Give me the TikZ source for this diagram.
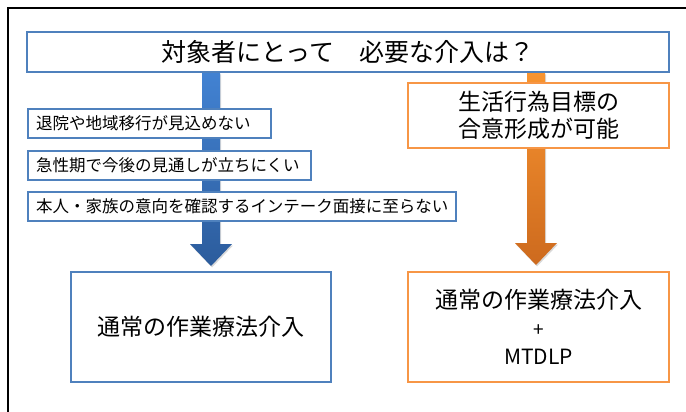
\documentclass[tikz,border=0pt]{standalone}
\usepackage{fontspec}
\setmainfont{Noto Sans CJK JP}
\usepackage{tikz}
\usetikzlibrary{calc}
\usetikzlibrary{backgrounds}
\usetikzlibrary{shadows}
\definecolor{boxblue}{RGB}{79,129,189}
\definecolor{boxorange}{RGB}{247,150,70}
\definecolor{bluetop}{RGB}{66,130,210}
\definecolor{bluebot}{RGB}{44,92,156}
\definecolor{orangetop}{RGB}{248,148,48}
\definecolor{orangebot}{RGB}{205,106,30}
\tikzset{bluebox/.style={rectangle, draw=boxblue, line width=2pt, fill=white, inner sep=0pt}}
\tikzset{orangebox/.style={rectangle, draw=boxorange, line width=2pt, fill=white, inner sep=0pt, align=center}}
\tikzset{condbox/.style={bluebox, anchor=west, minimum height=29pt, inner xsep=8pt, font=\fontsize{16.5}{18}\selectfont}}
\tikzset{arrowshadow/.style={drop shadow={opacity=.3, shadow xshift=1pt, shadow yshift=-1.5pt}}}
\newcommand{\fatarrow}[4]{%
  \path[top color=#3, bottom color=#4, arrowshadow]
    ($(#1)+(-9,0)$) -- ($(#2)+(-9,-22)$) -- ($(#2)+(-21,-22)$) -- (#2)
    -- ($(#2)+(21,-22)$) -- ($(#2)+(9,-22)$) -- ($(#1)+(9,0)$) -- cycle;}

\begin{document}
\begin{tikzpicture}[x=1pt,y=-1pt]
    \useasboundingbox (0,0) rectangle (686,412);
    \draw[line width=2pt] (686,8) -- (8,8) -- (8,412);

    \node [bluebox, minimum width=642pt, minimum height=40pt, font=\fontsize{25}{28}\selectfont](title) at (348,52){対象者にとって　必要な介入は？};
    \node [condbox](cond1) at (27,123.5){\makebox[227pt][l]{退院や地域移行が見込めない}};
    \node [condbox](cond2) at (27,165.5){\makebox[267pt][l]{急性期で今後の見通しが立ちにくい}};
    \node [condbox](cond3) at (27,206){\makebox[412pt][l]{本人・家族の意向を確認するインテーク面接に至らない}};
    \node [orangebox, minimum width=261pt, minimum height=65pt, font=\fontsize{23}{27}\selectfont](goal) at (538.5,115.5){生活行為目標の\\合意形成が可能};
    \node [bluebox, minimum width=260pt, minimum height=110pt, font=\fontsize{23}{28}\selectfont](usual) at (201,327){通常の作業療法介入};
    \node [orangebox, minimum width=261pt, minimum height=110pt, font=\fontsize{19}{28}\selectfont](mtdlp) at (538.5,327){{\fontsize{23}{29}\selectfont 通常の作業療法介入}\\+\\{\fontsize{21}{28}\selectfont MTDLP}};

    \coordinate (bluetip) at (211,266);
    \coordinate (orangetip) at (536,265);
    \coordinate (bluestart) at (title.south -| bluetip);
    \coordinate (orangestart) at (title.south -| orangetip);

    \begin{scope}[on background layer]
        \fatarrow{bluestart}{bluetip}{bluetop}{bluebot}
        \fatarrow{orangestart}{orangetip}{orangetop}{orangebot}
    \end{scope}
\end{tikzpicture}
\end{document}
